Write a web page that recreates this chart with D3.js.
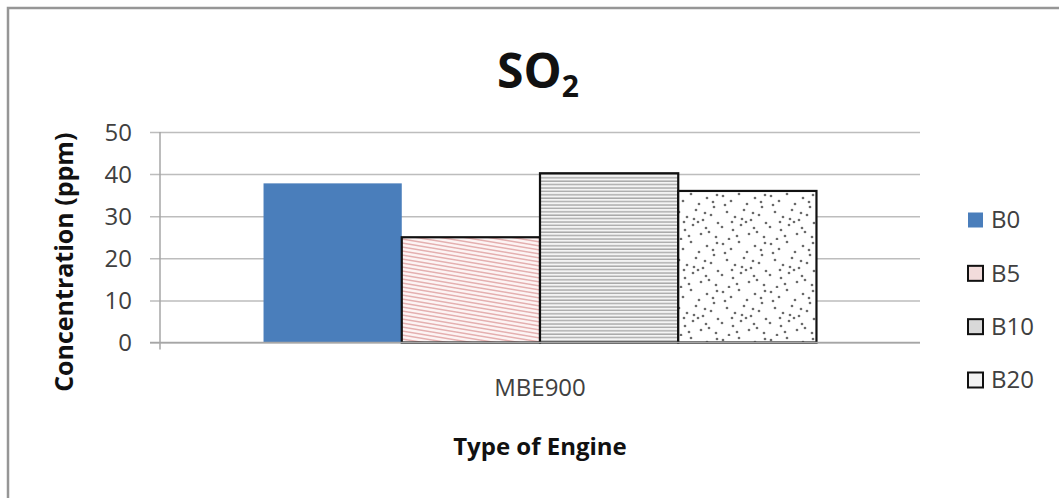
<!DOCTYPE html>
<html>
<head>
<meta charset="utf-8">
<script src="https://cdn.jsdelivr.net/npm/d3@7"></script>
<style>
  html, body { margin: 0; padding: 0; background: #fff; }
  svg { display: block; }
  text { font-family: "Open Sans", "Noto Sans", sans-serif; }
</style>
</head>
<body>
<svg id="chart" width="1059" height="498"></svg>
<script>
// Chart data
const categories = ["MBE900"];
const seriesNames = ["B0", "B5", "B10", "B20"];
const seriesValues = [37.8, 25.0, 40.2, 36.0];
const yTicks = [0, 10, 20, 30, 40, 50];

// Speckle positions for the B20 fill tile (tile units)
const speckleX = [3, 11, 19, 27, 35, 42, 7, 15, 24, 31, 39, 46, 2, 13, 21, 29, 37, 44, 9, 17, 26, 34, 41, 5, 22, 33, 12, 45];
const speckleY = [4, 9, 2, 12, 6, 15, 20, 25, 18, 28, 23, 31, 35, 38, 33, 42, 40, 45, 47, 44, 30, 36, 10, 13, 27, 21, 30, 3];

const svg = d3.select("#chart");
const defs = svg.append("defs");

// B5: fine pink shallow diagonal hatching (continuous across tiles)
const p5 = defs.append("pattern")
  .attr("id", "hatchPink").attr("patternUnits", "userSpaceOnUse")
  .attr("width", 24).attr("height", 4);
p5.append("rect").attr("width", 24).attr("height", 4).attr("fill", "#fdf4f4");
[-4, 0, 4].forEach(off => {
  p5.append("line").attr("x1", 0).attr("y1", off).attr("x2", 24).attr("y2", off + 4)
    .attr("stroke", "#e4b0b0").attr("stroke-width", 1.5);
});

// B10: horizontal gray lines
const p10 = defs.append("pattern")
  .attr("id", "hatchGray").attr("patternUnits", "userSpaceOnUse")
  .attr("width", 8).attr("height", 3.4);
p10.append("rect").attr("width", 8).attr("height", 3.4).attr("fill", "#f4f4f4");
p10.append("line").attr("x1", 0).attr("x2", 8).attr("y1", 1).attr("y2", 1)
  .attr("stroke", "#a8a8a8").attr("stroke-width", 1.4);

// B20: sparse dots
const p20 = defs.append("pattern")
  .attr("id", "speckle").attr("patternUnits", "userSpaceOnUse")
  .attr("width", 48).attr("height", 48);
p20.append("rect").attr("width", 48).attr("height", 48).attr("fill", "#fff");
p20.selectAll("circle").data(speckleX).join("circle")
  .attr("cx", d => d).attr("cy", (d, i) => speckleY[i]).attr("r", 1.35)
  .attr("fill", "#6a6a6a");

const fills = ["#4a7ebb", "url(#hatchPink)", "url(#hatchGray)", "url(#speckle)"];
const legendFills = ["#4a7ebb", "#f2dcdb", "#d9d9d9", "#f2f2f2"];

// Outer chart frame
svg.append("rect")
  .attr("x", 8).attr("y", 8).attr("width", 1070).attr("height", 510)
  .attr("fill", "none").attr("stroke", "#969696").attr("stroke-width", 2.5);

// Scales
const plot = { left: 160, right: 920, top: 132, bottom: 342.5 };
const y = d3.scaleLinear().domain([0, 50]).range([plot.bottom, plot.top]);
const x0 = d3.scaleBand().domain(categories).range([plot.left, plot.right]).padding(0.1577);
const x1 = d3.scaleBand().domain(seriesNames).range([0, x0.bandwidth()]).padding(0);

// Gridlines with outward ticks
const yAxis = d3.axisLeft(y).tickValues(yTicks)
  .tickSize(-(plot.right - plot.left)).tickSizeOuter(0).tickPadding(28);
const gy = svg.append("g").attr("transform", `translate(${plot.left},0)`).call(yAxis);
gy.select(".domain").remove();
gy.selectAll(".tick line").attr("x1", -10).attr("stroke", "#bdbdbd").attr("stroke-width", 1.5);
gy.selectAll(".tick text")
  .attr("font-size", 24).attr("fill", "#404040").attr("dy", "0.35em");

// Axis lines
svg.append("line").attr("x1", plot.left).attr("x2", plot.left)
  .attr("y1", plot.top).attr("y2", plot.bottom + 7)
  .attr("stroke", "#a6a6a6").attr("stroke-width", 1.5);

// Bars
const g = svg.append("g");
categories.forEach(cat => {
  g.selectAll("rect.bar").data(seriesValues).join("rect")
    .attr("class", "bar")
    .attr("x", (d, i) => x0(cat) + x1(seriesNames[i]))
    .attr("y", d => y(d))
    .attr("width", x1.bandwidth())
    .attr("height", d => y(0) - y(d))
    .attr("fill", (d, i) => fills[i])
    .attr("stroke", (d, i) => i === 0 ? "none" : "#111")
    .attr("stroke-width", 2.2);
});

svg.append("line").attr("x1", plot.left - 10).attr("x2", plot.right)
  .attr("y1", plot.bottom).attr("y2", plot.bottom)
  .attr("stroke", "#a6a6a6").attr("stroke-width", 1.5);

// Category label
const xAxis = d3.axisBottom(x0).tickSize(0).tickPadding(36);
const gx = svg.append("g").attr("transform", `translate(0,${plot.bottom})`).call(xAxis);
gx.select(".domain").remove();
gx.selectAll(".tick text").attr("font-size", 24).attr("fill", "#404040");

// Title with subscript
const title = svg.append("text").attr("x", 538).attr("y", 88)
  .attr("text-anchor", "middle").attr("font-size", 48).attr("font-weight", 700).attr("fill", "#111");
title.append("tspan").text("SO");
title.append("tspan").attr("font-size", 30).attr("dy", 9).text("2");

// Axis titles
svg.append("text")
  .attr("transform", `translate(73,${(plot.top + plot.bottom) / 2 + 25}) rotate(-90)`)
  .attr("text-anchor", "middle").attr("font-size", 25).attr("font-weight", 700).attr("fill", "#111")
  .text("Concentration (ppm)");
svg.append("text").attr("x", 540).attr("y", 455)
  .attr("text-anchor", "middle").attr("font-size", 24).attr("font-weight", 700).attr("fill", "#111")
  .text("Type of Engine");

// Legend
const legendY = d3.scalePoint().domain(seriesNames).range([220, 380]);
const lg = svg.append("g").selectAll("g").data(seriesNames).join("g")
  .attr("transform", d => `translate(968,${legendY(d)})`);
lg.append("rect").attr("x", 0).attr("y", -7.5).attr("width", 15).attr("height", 15)
  .attr("fill", (d, i) => legendFills[i])
  .attr("stroke", (d, i) => i === 0 ? "none" : "#111").attr("stroke-width", 2);
lg.append("text").attr("x", 23).attr("dy", "0.35em")
  .attr("font-size", 24).attr("fill", "#404040").text(d => d);
</script>
</body>
</html>
